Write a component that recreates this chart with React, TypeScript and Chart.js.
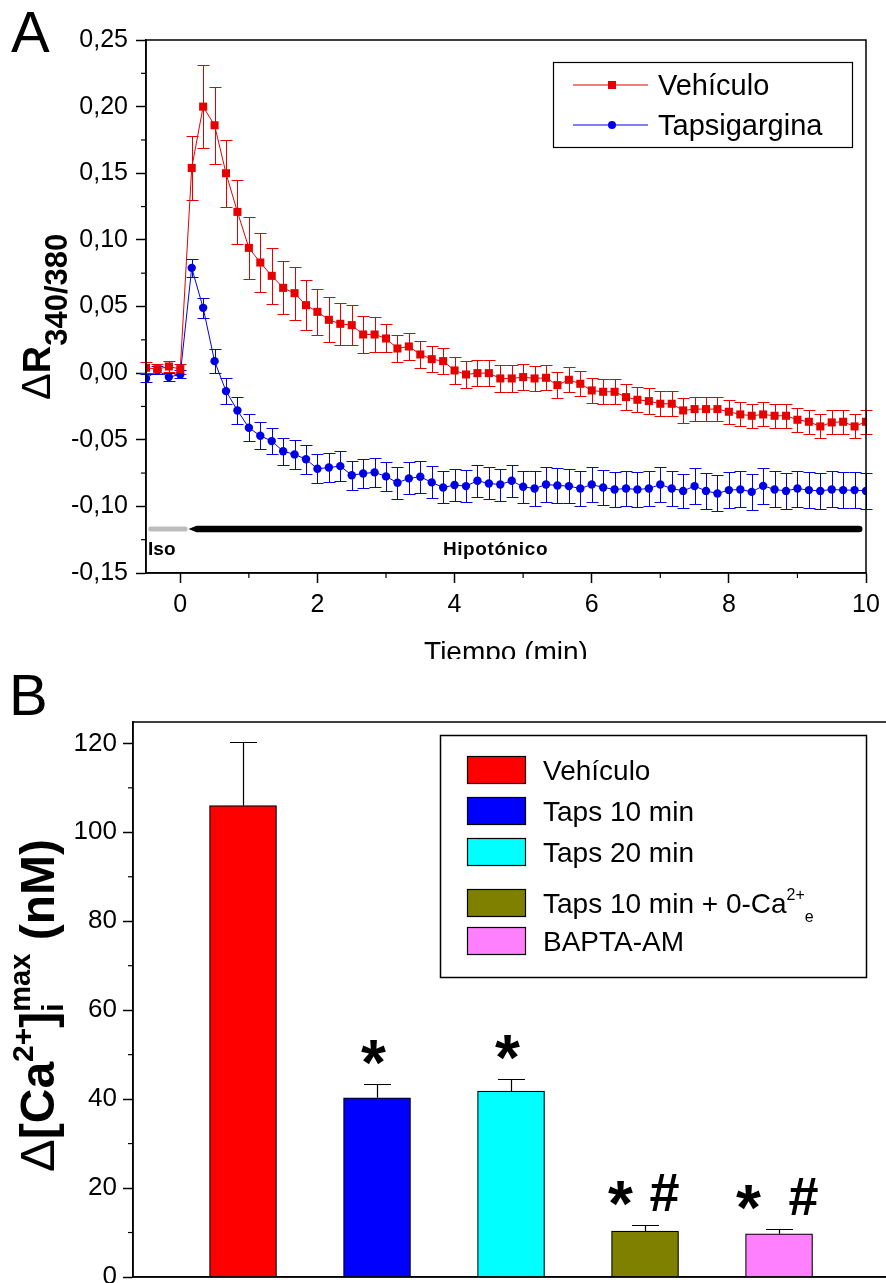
import React, { useEffect, useRef } from 'react';
import { Chart, registerables } from 'chart.js';

Chart.register(...registerables);

const FONT = "'Liberation Sans', Arial, Helvetica, sans-serif";
Chart.defaults.font.family = FONT;
Chart.defaults.color = '#000';

// ---------------- Panel A data ----------------
const TIME_S = [-30, -20, -10, 0, 10, 20, 30, 40, 50, 60, 70, 80, 90, 100, 110, 120, 130, 140, 150, 160, 170, 180,
  190, 200, 210, 220, 230, 240, 250, 260, 270, 280, 290, 300, 310, 320, 330, 340, 350, 360, 370, 380, 390, 400,
  410, 420, 430, 440, 450, 460, 470, 480, 490, 500, 510, 520, 530, 540, 550, 560, 570, 580, 590, 600];

const VEHICULO = [0.004, 0.003, 0.005, 0.003,
  0.154, 0.200, 0.186, 0.150, 0.121, 0.094, 0.083, 0.073, 0.064, 0.060, 0.051, 0.046, 0.040, 0.037, 0.036, 0.029, 0.029, 0.026,
  0.0185, 0.020, 0.014, 0.0105, 0.009, 0.002, -0.001, 0.000, 0.000, -0.004, -0.004, -0.003, -0.004, -0.0035, -0.009, -0.005,
  -0.008, -0.013, -0.014, -0.014, -0.018, -0.020, -0.021, -0.023, -0.023, -0.028, -0.027, -0.027, -0.027, -0.029, -0.031,
  -0.032, -0.031, -0.032, -0.032, -0.035, -0.0365, -0.040, -0.037, -0.0365, -0.040, -0.0365];

const VEHICULO_ERR = [0.004, 0.004, 0.004, 0.004,
  0.024, 0.031, 0.029, 0.025, 0.024, 0.023, 0.022, 0.021, 0.020, 0.020, 0.019, 0.0175, 0.017, 0.016, 0.015, 0.014, 0.013, 0.0105,
  0.010, 0.010, 0.010, 0.010, 0.010, 0.010, 0.010, 0.010, 0.010, 0.010, 0.010, 0.010,
  0.0095, 0.0095, 0.0095, 0.0095, 0.0095, 0.0095, 0.0095, 0.0095, 0.0095, 0.0095, 0.0095, 0.0095, 0.0095, 0.0095,
  0.009, 0.009, 0.009, 0.009, 0.009, 0.009, 0.009, 0.009, 0.009, 0.009, 0.009, 0.009, 0.009, 0.009, 0.009, 0.009];

const TAPSIGARGINA = [-0.004, 0.002, -0.003, -0.001,
  0.079, 0.049, 0.009, -0.0135, -0.028, -0.041, -0.047, -0.051, -0.0586, -0.061, -0.0646, -0.0718, -0.0708, -0.0698, -0.0766, -0.0753, -0.0745, -0.0775,
  -0.0823, -0.079, -0.0778, -0.082, -0.0858, -0.084, -0.0848, -0.0808, -0.0828, -0.0836, -0.0808, -0.0853, -0.0866, -0.0836,
  -0.0843, -0.0848, -0.0866, -0.0836, -0.0858, -0.0873, -0.0866, -0.0873, -0.0866, -0.0836, -0.0866, -0.0884, -0.0848, -0.0884,
  -0.0903, -0.0878, -0.0873, -0.0891, -0.0846, -0.0873, -0.0884, -0.0866, -0.0878, -0.0884, -0.0873, -0.0878, -0.0878, -0.0884];

const TAPSIGARGINA_ERR = [0.003, 0.003, 0.003, 0.003,
  0.007, 0.0075, 0.009, 0.010, 0.010, 0.010, 0.010, 0.010, 0.010, 0.011, 0.011, 0.011, 0.011, 0.011, 0.011, 0.011, 0.011, 0.011,
  0.012, 0.012, 0.012, 0.012, 0.012, 0.012, 0.012, 0.012, 0.012, 0.012, 0.012, 0.012,
  0.013, 0.013, 0.013, 0.013, 0.013, 0.013, 0.013, 0.013, 0.013, 0.013, 0.013, 0.013, 0.013, 0.013,
  0.0135, 0.0135, 0.0135, 0.0135, 0.0135, 0.0135, 0.0135, 0.0135, 0.0135, 0.0135, 0.0135, 0.0135, 0.0135, 0.0135, 0.0135, 0.0135];

const A_SERIES_LABELS = ['Vehículo', 'Tapsigargina'];
const A_X_TICKS = [0, 2, 4, 6, 8, 10];
const A_X_MINOR = [1, 3, 5, 7, 9];
const A_Y_TICKS = [-0.15, -0.1, -0.05, 0, 0.05, 0.1, 0.15, 0.2, 0.25];
const A_Y_TICK_LABELS = ['-0,15', '-0,10', '-0,05', '0,00', '0,05', '0,10', '0,15', '0,20', '0,25'];
const A_Y_MINOR = [-0.125, -0.075, -0.025, 0.025, 0.075, 0.125, 0.175, 0.225];
const STIM_LEVEL = -0.117;
const ISO_RANGE = [-0.46, 0.07];
const HIPO_RANGE = [0.12, 9.9];

// ---------------- Panel B data ----------------
const B_LABELS = ['Vehículo', 'Taps 10 min', 'Taps 20 min', 'Taps 10 min + 0-Ca^{2+}_{e}', 'BAPTA-AM'];
const B_POS = [1, 2, 3, 4, 5];
const B_VALUES = [106, 40.3, 41.8, 10.3, 9.7];
const B_ERR = [14.4, 3.1, 2.8, 1.3, 1.2];
const B_MARKS = [[], ['*'], ['*'], ['*', '#'], ['*', '#']];
const B_COLORS = ['#ff0000', '#0000ff', '#00ffff', '#808000', '#ff80ff'];
const B_Y_TICKS = [0, 20, 40, 60, 80, 100, 120];
const B_Y_MINOR = [10, 30, 50, 70, 90, 110];

const RED = '#e60000';
const BLUE = '#0000e6';

const A_H = 659;
const B_TOP = 659;
const B_H = 1283 - B_TOP;

function fnt(size: number, bold = false) {
  return `${bold ? 'bold ' : ''}${size}px ${FONT}`;
}

type Run = { t: string; size: number; bold?: boolean; dy?: number; stack?: boolean };

function drawRuns(ctx: CanvasRenderingContext2D, runs: Run[], x: number, y: number) {
  let cx = x;
  let lastStart = x;
  let lastW = 0;
  for (const r of runs) {
    ctx.font = fnt(r.size, r.bold);
    const w = ctx.measureText(r.t).width;
    if (r.stack) {
      ctx.fillText(r.t, lastStart, y + (r.dy || 0));
      const nw = Math.max(lastW, w);
      cx = lastStart + nw;
      lastW = nw;
    } else {
      ctx.fillText(r.t, cx, y + (r.dy || 0));
      lastStart = cx;
      lastW = w;
      cx += w;
    }
  }
}

function richRuns(label: string, size: number, small: number): Run[] {
  const runs: Run[] = [];
  const re = /\^\{([^}]*)\}|_\{([^}]*)\}/g;
  let last = 0;
  let m: RegExpExecArray | null;
  while ((m = re.exec(label))) {
    if (m.index > last) runs.push({ t: label.slice(last, m.index), size });
    if (m[1] !== undefined) runs.push({ t: m[1], size: small, dy: -13 });
    else runs.push({ t: m[2], size: small, dy: 9 });
    last = re.lastIndex;
  }
  if (last < label.length) runs.push({ t: label.slice(last), size });
  return runs;
}

function seg(ctx: CanvasRenderingContext2D, x1: number, y1: number, x2: number, y2: number) {
  ctx.beginPath();
  ctx.moveTo(x1, y1);
  ctx.lineTo(x2, y2);
  ctx.stroke();
}

const crisp = (v: number) => Math.round(v) + 0.5;

const panelAPlugin = {
  id: 'panelA',
  beforeDatasetsDraw(chart: any) {
    const { ctx, scales } = chart;
    const x = scales.x, y = scales.y;
    const series: [number[], number[], string][] = [
      [VEHICULO, VEHICULO_ERR, RED],
      [TAPSIGARGINA, TAPSIGARGINA_ERR, BLUE],
    ];
    ctx.save();
    ctx.lineWidth = 1;
    for (const [vals, errs, color] of series) {
      ctx.strokeStyle = color;
      vals.forEach((v, i) => {
        const px = crisp(x.getPixelForValue(TIME_S[i] / 60));
        const top = crisp(y.getPixelForValue(v + errs[i]));
        const bot = crisp(y.getPixelForValue(v - errs[i]));
        ctx.beginPath();
        ctx.moveTo(px, top); ctx.lineTo(px, bot);
        ctx.moveTo(px - 6, top); ctx.lineTo(px + 6, top);
        ctx.moveTo(px - 6, bot); ctx.lineTo(px + 6, bot);
        ctx.stroke();
      });
    }
    ctx.restore();
  },
  afterDraw(chart: any) {
    const { ctx, chartArea: ca, scales } = chart;
    const x = scales.x, y = scales.y;
    ctx.save();
    // frame
    ctx.strokeStyle = '#000';
    ctx.lineWidth = 1.5;
    ctx.strokeRect(ca.left, ca.top, ca.right - ca.left, ca.bottom - ca.top);
    // minor ticks
    ctx.lineWidth = 1.2;
    A_X_MINOR.forEach(v => { const p = x.getPixelForValue(v); seg(ctx, p, ca.bottom, p, ca.bottom + 5); });
    A_Y_MINOR.forEach(v => { const p = y.getPixelForValue(v); seg(ctx, ca.left - 5, p, ca.left, p); });

    // stimulus bars
    const yb = y.getPixelForValue(STIM_LEVEL);
    ctx.strokeStyle = '#bdbdbd';
    ctx.lineWidth = 5;
    ctx.lineCap = 'round';
    seg(ctx, x.getPixelForValue(ISO_RANGE[0]) + 2, yb, x.getPixelForValue(ISO_RANGE[1]), yb);
    ctx.lineCap = 'butt';
    const x0 = x.getPixelForValue(HIPO_RANGE[0]);
    const x1 = x.getPixelForValue(HIPO_RANGE[1]);
    ctx.fillStyle = '#000';
    ctx.beginPath();
    ctx.moveTo(x0, yb);
    ctx.lineTo(x0 + 8, yb - 3.3);
    ctx.lineTo(x1, yb - 3.3);
    ctx.arc(x1, yb, 3.3, -Math.PI / 2, Math.PI / 2);
    ctx.lineTo(x0 + 8, yb + 3.3);
    ctx.closePath();
    ctx.fill();
    ctx.font = fnt(19, true);
    ctx.textBaseline = 'alphabetic';
    ctx.textAlign = 'left';
    ctx.fillText('Iso', x.getPixelForValue(-0.47), yb + 26);
    (ctx as any).letterSpacing = '0.6px';
    ctx.fillText('Hipotónico', x.getPixelForValue(3.83), yb + 26);
    (ctx as any).letterSpacing = '0px';

    // legend
    ctx.lineWidth = 1.2;
    ctx.strokeStyle = '#000';
    ctx.strokeRect(553.5, 62.5, 299, 85);
    const rows = [
      { label: A_SERIES_LABELS[0], color: RED, cy: 85, rect: true },
      { label: A_SERIES_LABELS[1], color: BLUE, cy: 125, rect: false },
    ];
    rows.forEach(r => {
      ctx.strokeStyle = r.color;
      ctx.lineWidth = 1.2;
      seg(ctx, 573, r.cy, 648, r.cy);
      ctx.fillStyle = r.color;
      if (r.rect) ctx.fillRect(608, r.cy - 4, 8, 8);
      else { ctx.beginPath(); ctx.arc(612, r.cy, 4, 0, Math.PI * 2); ctx.fill(); }
      ctx.fillStyle = '#000';
      ctx.font = fnt(29);
      ctx.fillText(r.label, 658, r.cy + 10);
    });

    // axis titles
    ctx.fillStyle = '#000';
    ctx.font = fnt(28);
    ctx.textAlign = 'center';
    ctx.fillText('Tiempo (min)', (ca.left + ca.right) / 2, 661);
    ctx.textAlign = 'left';
    ctx.save();
    ctx.translate(50, 400);
    ctx.rotate(-Math.PI / 2);
    drawRuns(ctx, [
      { t: 'Δ', size: 40 },
      { t: 'R', size: 38, bold: true },
      { t: '340/380', size: 31, bold: true, dy: 17 },
    ], 0, 0);
    ctx.restore();

    // panel letter
    ctx.font = fnt(58);
    ctx.fillText('A', 11, 52);
    ctx.restore();
  },
};

const panelBPlugin = {
  id: 'panelB',
  afterDatasetsDraw(chart: any) {
    const { ctx, scales } = chart;
    const x = scales.x, y = scales.y;
    ctx.save();
    ctx.strokeStyle = '#000';
    ctx.fillStyle = '#000';
    ctx.lineWidth = 1.2;
    B_VALUES.forEach((v, i) => {
      const px = crisp(x.getPixelForValue(B_POS[i]));
      const top = crisp(y.getPixelForValue(v + B_ERR[i]));
      const base = y.getPixelForValue(v);
      ctx.beginPath();
      ctx.moveTo(px, base); ctx.lineTo(px, top);
      ctx.moveTo(px - 13.5, top); ctx.lineTo(px + 13.5, top);
      ctx.stroke();
      const marks = B_MARKS[i];
      const cy = top - 37;
      ctx.textAlign = 'center';
      if (marks.length === 1) {
        ctx.font = fnt(64, true);
        ctx.fillText(marks[0], px - 4, cy + 37);
      } else if (marks.length === 2) {
        const dxs = i === 3 ? [-25, 19] : [-31, 24];
        ctx.font = fnt(64, true);
        ctx.fillText(marks[0], px + dxs[0], cy + 37);
        ctx.font = fnt(54, true);
        ctx.fillText(marks[1], px + dxs[1], cy + 22);
      }
    });
    ctx.restore();
  },
  afterDraw(chart: any) {
    const { ctx, chartArea: ca, scales } = chart;
    const y = scales.y;
    ctx.save();
    ctx.strokeStyle = '#000';
    ctx.lineWidth = 1.5;
    ctx.strokeRect(ca.left, ca.top, ca.right - ca.left, ca.bottom - ca.top);
    ctx.lineWidth = 1.2;
    B_Y_MINOR.forEach(v => { const p = y.getPixelForValue(v); seg(ctx, ca.left - 5, p, ca.left, p); });

    // legend
    const off = B_TOP;
    ctx.lineWidth = 1.5;
    ctx.strokeRect(440.5, 735.5 - off, 426, 242);
    const rowsY = [770, 811, 852, 903, 941];
    B_LABELS.forEach((lab, i) => {
      const cy = rowsY[i] - off;
      ctx.fillStyle = B_COLORS[i];
      ctx.fillRect(467, cy - 14, 59, 28);
      ctx.strokeStyle = '#000';
      ctx.lineWidth = 1.2;
      ctx.strokeRect(467.5, cy - 13.5, 58, 27);
      ctx.fillStyle = '#000';
      ctx.textAlign = 'left';
      drawRuns(ctx, richRuns(lab, 28, 16), 543, cy + 10);
    });

    // y title
    ctx.fillStyle = '#000';
    ctx.save();
    ctx.translate(54, 1172 - off);
    ctx.rotate(-Math.PI / 2);
    drawRuns(ctx, [
      { t: 'Δ', size: 49 },
      { t: '[Ca', size: 48, bold: true },
      { t: '2+', size: 30, bold: true, dy: -21 },
      { t: ']', size: 48, bold: true },
      { t: 'i', size: 30, bold: true, dy: 9 },
      { t: 'max', size: 29, bold: true, dy: -24, stack: true },
      { t: ' (nM)', size: 48, bold: true },
    ], 0, 0);
    ctx.restore();

    ctx.font = fnt(58);
    ctx.textAlign = 'left';
    ctx.fillText('B', 9, 715 - off);
    ctx.restore();
  },
};

export default function App() {
  const refA = useRef<HTMLCanvasElement>(null);
  const refB = useRef<HTMLCanvasElement>(null);

  useEffect(() => {
    const chartA = new Chart(refA.current as HTMLCanvasElement, {
      type: 'line',
      data: {
        datasets: [
          {
            label: A_SERIES_LABELS[0],
            data: TIME_S.map((s, i) => ({ x: s / 60, y: VEHICULO[i] })),
            borderColor: RED,
            backgroundColor: RED,
            borderWidth: 1,
            pointStyle: 'rect',
            pointRadius: 5.7,
            pointBorderWidth: 0,
            pointBackgroundColor: RED,
            tension: 0,
          },
          {
            label: A_SERIES_LABELS[1],
            data: TIME_S.map((s, i) => ({ x: s / 60, y: TAPSIGARGINA[i] })),
            borderColor: BLUE,
            backgroundColor: BLUE,
            borderWidth: 1,
            pointStyle: 'circle',
            pointRadius: 4.2,
            pointBorderWidth: 0,
            pointBackgroundColor: BLUE,
            tension: 0,
          },
        ],
      },
      options: {
        animation: false,
        responsive: false,
        devicePixelRatio: 1,
        layout: { padding: { top: 40, right: 20, left: 0, bottom: 0 } },
        plugins: { legend: { display: false }, tooltip: { enabled: false } },
        scales: {
          x: {
            type: 'linear',
            min: -0.5,
            max: 10,
            afterBuildTicks: (s: any) => { s.ticks = A_X_TICKS.map(v => ({ value: v })); },
            afterFit: (s: any) => { s.height = A_H - 573; s.paddingLeft = 0; s.paddingRight = 0; },
            ticks: { font: { size: 25, family: FONT }, color: '#000', padding: 7, autoSkip: false, maxRotation: 0, callback: (v: any) => String(v) },
            grid: { display: true, drawOnChartArea: false, drawTicks: true, tickLength: 10, tickWidth: 1.5, tickColor: '#000' },
            border: { display: true, color: '#000', width: 1.5 },
          },
          y: {
            type: 'linear',
            min: -0.15,
            max: 0.25,
            afterBuildTicks: (s: any) => { s.ticks = A_Y_TICKS.map(v => ({ value: v })); },
            afterFit: (s: any) => { s.width = 146; s.paddingTop = 0; s.paddingBottom = 0; },
            ticks: { font: { size: 25, family: FONT }, color: '#000', padding: 8, autoSkip: false, callback: (_v: any, i: number) => A_Y_TICK_LABELS[i] },
            grid: { display: true, drawOnChartArea: false, drawTicks: true, tickLength: 10, tickWidth: 1.5, tickColor: '#000' },
            border: { display: true, color: '#000', width: 1.5 },
          },
        },
      },
      plugins: [panelAPlugin],
    } as any);

    const chartB = new Chart(refB.current as HTMLCanvasElement, {
      type: 'bar',
      data: {
        datasets: [
          {
            label: 'Δ[Ca2+]i max (nM)',
            data: B_POS.map((p, i) => ({ x: p, y: B_VALUES[i] })),
            backgroundColor: B_COLORS,
            borderColor: '#000',
            borderWidth: 1.2,
            barThickness: 67,
          },
        ],
      },
      options: {
        animation: false,
        responsive: false,
        devicePixelRatio: 1,
        layout: { padding: { top: 722 - B_TOP, right: 10, left: 0, bottom: 0 } },
        plugins: { legend: { display: false }, tooltip: { enabled: false } },
        scales: {
          x: {
            type: 'linear',
            min: 0.179,
            max: 5.828,
            offset: false,
            ticks: { display: false },
            grid: { display: false, drawTicks: false },
            border: { display: true, color: '#000', width: 1.5 },
            afterFit: (s: any) => { s.height = 6; s.paddingLeft = 0; s.paddingRight = 0; },
          },
          y: {
            type: 'linear',
            min: 0,
            max: 124.8,
            afterBuildTicks: (s: any) => { s.ticks = B_Y_TICKS.map(v => ({ value: v })); },
            afterFit: (s: any) => { s.width = 133; s.paddingTop = 0; s.paddingBottom = 0; },
            ticks: { font: { size: 26, family: FONT }, color: '#000', padding: 6, autoSkip: false, callback: (v: any) => String(v) },
            grid: { display: true, drawOnChartArea: false, drawTicks: true, tickLength: 10, tickWidth: 1.5, tickColor: '#000' },
            border: { display: true, color: '#000', width: 1.5 },
          },
        },
      },
      plugins: [panelBPlugin],
    } as any);

    return () => {
      chartA.destroy();
      chartB.destroy();
    };
  }, []);

  return (
    <div style={{ position: 'fixed', left: 0, top: 0, width: 886, height: 1283, overflow: 'hidden', background: '#fff' }}>
      <canvas ref={refA} width={886} height={A_H} style={{ position: 'absolute', left: 0, top: 0, width: 886, height: A_H }} />
      <canvas ref={refB} width={900} height={B_H} style={{ position: 'absolute', left: 0, top: B_TOP, width: 900, height: B_H }} />
    </div>
  );
}
